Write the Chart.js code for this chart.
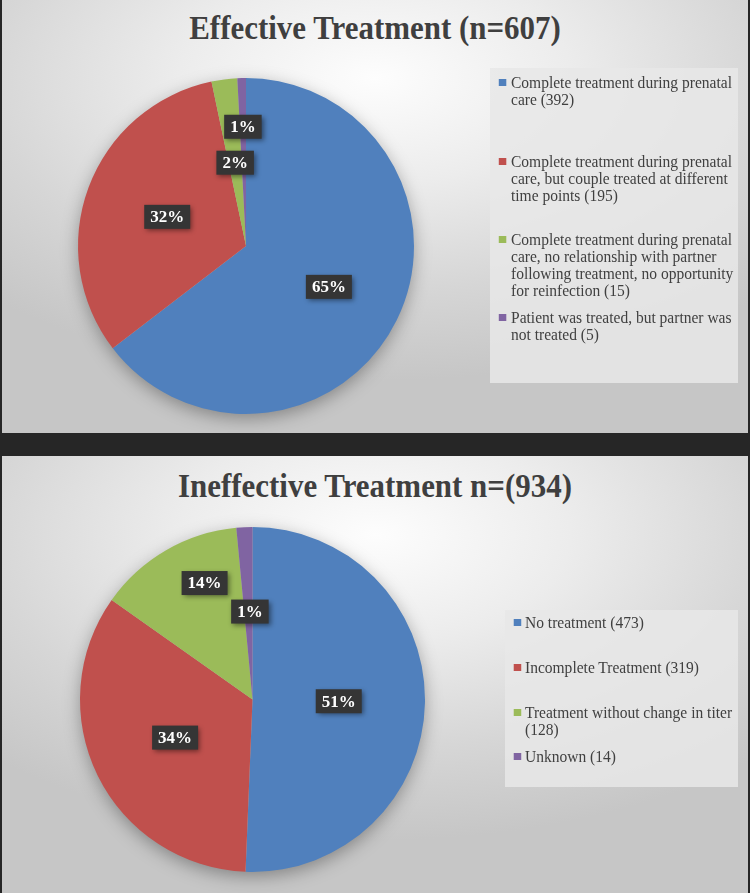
<!DOCTYPE html>
<html>
<head>
<meta charset="utf-8">
<script src="https://cdn.jsdelivr.net/npm/chart.js@4.4.1/dist/chart.umd.min.js"></script>
<style>
body { margin:0; width:750px; height:893px; background:#262626; position:relative; overflow:hidden;
       font-family:"Liberation Serif","Times New Roman",serif; }
.panel { position:absolute; left:2px; width:746px; overflow:hidden;
         background:radial-gradient(ellipse 75% 70% at 50% 18%, #fdfdfd 0%, #ececec 35%, #d6d6d6 70%, #c6c6c6 100%); }
#p1 { top:0; height:433px; }
#p2 { top:456px; height:437px; }
.title { position:absolute; left:0; width:100%; text-align:center; font-weight:bold; font-size:34px;
         line-height:33px; color:#3f3f3f; font-family:"Liberation Serif",serif; transform:scaleX(0.91); }
canvas { position:absolute; left:0; top:0; }
.legend { position:absolute; background:rgba(232,232,232,0.85); }
.item { position:absolute; left:0; width:250px; font-family:"Liberation Serif",serif; font-size:16.5px;
        line-height:17px; color:#404040; white-space:pre-line; transform:scaleX(0.94); transform-origin:0 0; }
.item i { position:absolute; width:7.5px; height:7px; top:5px; }
</style>
</head>
<body>
<div class="panel" id="p1">
  <div class="title" style="top:11px">Effective Treatment (n=607)</div>
  <canvas id="c1" width="746" height="433"></canvas>
  <div class="legend" id="l1" style="left:488px;top:68px;width:248px;height:315px"></div>
</div>
<div class="panel" id="p2">
  <div class="title" style="top:13px">Ineffective Treatment n=(934)</div>
  <canvas id="c2" width="746" height="437"></canvas>
  <div class="legend" id="l2" style="left:503px;top:154px;width:233px;height:177px"></div>
</div>
<script>
// effective treatment
const effLabels = [
  'Complete treatment during prenatal\ncare (392)',
  'Complete treatment during prenatal\ncare, but couple treated at different\ntime points (195)',
  'Complete treatment during prenatal\ncare, no relationship with partner\nfollowing treatment, no opportunity\nfor reinfection (15)',
  'Patient was treated, but partner was\nnot treated (5)'
];
const effValues = [392, 195, 15, 5];

// ineffective treatment
const ineffLabels = [
  'No treatment (473)',
  'Incomplete Treatment (319)',
  'Treatment without change in titer\n(128)',
  'Unknown (14)'
];
const ineffValues = [473, 319, 128, 14];

const colors = ['#5080bd', '#c0504d', '#9bbb59', '#8064a2'];

// label placement (fraction of radius, angle shift in degrees)
const effLabelPos = [[0.55, 0], [0.5, 0], [0.5, 0], [0.71, 0]];
const ineffLabelPos = [[0.5, 0], [0.5, 0], [0.73, 7.7], [0.51, 1]];

const pieShadow = {
  id: 'pieShadow',
  beforeDatasetsDraw(chart) {
    const arc = chart.getDatasetMeta(0).data[0];
    const c = chart.ctx;
    c.save();
    c.shadowColor = 'rgba(0,0,0,0.35)';
    c.shadowBlur = 18;
    c.shadowOffsetY = 5;
    c.fillStyle = '#bbb';
    c.beginPath();
    c.arc(arc.x, arc.y, arc.outerRadius - 1, 0, Math.PI * 2);
    c.fill();
    c.restore();
  }
};

const pctLabels = {
  id: 'pctLabels',
  afterDatasetsDraw(chart, args, opts) {
    const c = chart.ctx;
    const ds = chart.data.datasets[0].data;
    const total = ds.reduce((a, b) => a + b, 0);
    chart.getDatasetMeta(0).data.forEach((arc, i) => {
      const [frac, shift] = opts.pos[i];
      const ang = (arc.startAngle + arc.endAngle) / 2 + shift * Math.PI / 180;
      const x = arc.x + Math.cos(ang) * arc.outerRadius * frac;
      const y = arc.y + Math.sin(ang) * arc.outerRadius * frac;
      const txt = Math.round(ds[i] / total * 100) + '%';
      c.save();
      c.font = 'bold 17px "Liberation Serif"';
      const w = c.measureText(txt).width + 12, h = 24;
      c.shadowColor = 'rgba(0,0,0,0.45)';
      c.shadowBlur = 5;
      c.shadowOffsetX = 2;
      c.shadowOffsetY = 2;
      c.fillStyle = '#353535';
      c.fillRect(x - w / 2, y - h / 2, w, h);
      c.restore();
      c.save();
      c.font = 'bold 17px "Liberation Serif"';
      c.fillStyle = '#ffffff';
      c.textAlign = 'center';
      c.textBaseline = 'middle';
      c.fillText(txt, x, y + 1);
      c.restore();
    });
  }
};

function makePie(id, labels, values, padding, pos) {
  return new Chart(document.getElementById(id), {
    type: 'pie',
    data: {
      labels: labels,
      datasets: [{ data: values, backgroundColor: colors, borderWidth: 0 }]
    },
    options: {
      responsive: false,
      animation: false,
      layout: { padding: padding },
      plugins: {
        legend: { display: false },
        tooltip: { enabled: false },
        pctLabels: { pos: pos }
      }
    },
    plugins: [pieShadow, pctLabels]
  });
}

function makeLegend(id, labels, tops, markLeft, textLeft) {
  const box = document.getElementById(id);
  labels.forEach((t, i) => {
    const d = document.createElement('div');
    d.className = 'item';
    d.style.top = tops[i] + 'px';
    d.style.left = textLeft + 'px';
    const m = document.createElement('i');
    m.style.background = colors[i];
    m.style.left = (markLeft - textLeft) + 'px';
    d.appendChild(m);
    d.appendChild(document.createTextNode(t));
    box.appendChild(d);
  });
}

makePie('c1', effLabels, effValues, { left: 76, top: 78, right: 334, bottom: 19 }, effLabelPos);
makePie('c2', ineffLabels, ineffValues, { left: 78, top: 71, right: 323, bottom: 21 }, ineffLabelPos);
makeLegend('l1', effLabels, [6, 85, 163, 241], 8, 21);
makeLegend('l2', ineffLabels, [4, 49, 94, 138], 8, 20);
</script>
</body>
</html>
